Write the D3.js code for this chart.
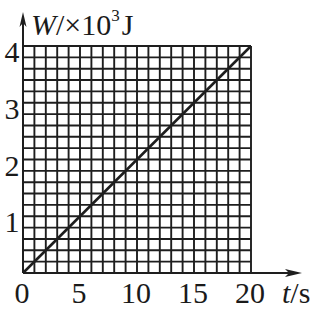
<!DOCTYPE html>
<html>
<head>
<meta charset="utf-8">
<script src="https://cdn.jsdelivr.net/npm/d3@7/dist/d3.min.js"></script>
<style>
	html, body { margin: 0; padding: 0; background: #fff; }
	text { font-family: "Liberation Serif", "Times New Roman", serif; fill: #1a1a1a; }
</style>
</head>
<body>
<div id="chart"></div>
<script>
"use strict";

// Chart data
var timeVals = [0, 20],
	workVals = [0, 4],
	xTickLabels = [0, 5, 10, 15, 20],
	yTickLabels = [1, 2, 3, 4];

var width = 320,
	height = 309,
	margin = { top: 46, right: 69, bottom: 36, left: 23 },
	ink = "#1e1e1e";

var svg = d3.select("#chart").append("svg")
	.attr("width", width)
	.attr("height", height);

var x = d3.scaleLinear()
	.domain([0, 20])
	.range([margin.left, width - margin.right]);

var y = d3.scaleLinear()
	.domain([0, 4])
	.range([height - margin.bottom, margin.top]);

// Grid lines: one per second, one per 0.2 x10^3 J
var grid = svg.append("g")
	.attr("stroke", ink)
	.attr("stroke-width", 1.9);

grid.selectAll(".v")
	.data(d3.range(0, 21))
	.enter().append("line")
	.attr("x1", function (d) { return x(d); })
	.attr("x2", function (d) { return x(d); })
	.attr("y1", y(0))
	.attr("y2", y(4));

grid.selectAll(".h")
	.data(d3.range(0, 21).map(function (i) { return i * 0.2; }))
	.enter().append("line")
	.attr("y1", function (d) { return y(d); })
	.attr("y2", function (d) { return y(d); })
	.attr("x1", x(0))
	.attr("x2", x(20));

// Axes with arrows
svg.append("line")
	.attr("x1", x(0)).attr("x2", 292)
	.attr("y1", y(0)).attr("y2", y(0))
	.attr("stroke", ink).attr("stroke-width", 2);

svg.append("path")
	.attr("d", "M" + 302 + "," + y(0) + "L285," + (y(0) - 4) + "L289," + y(0) + "L285," + (y(0) + 4) + "Z")
	.attr("fill", ink);

svg.append("line")
	.attr("x1", x(0)).attr("x2", x(0))
	.attr("y1", y(0)).attr("y2", 22)
	.attr("stroke", ink).attr("stroke-width", 2);

svg.append("path")
	.attr("d", "M" + x(0) + ",12L" + (x(0) - 3.5) + ",27L" + x(0) + ",23L" + (x(0) + 3.5) + ",27Z")
	.attr("fill", ink);

// Data line
var line = d3.line()
	.x(function (d) { return x(d[0]); })
	.y(function (d) { return y(d[1]); });

svg.append("path")
	.datum(d3.zip(timeVals, workVals))
	.attr("d", line)
	.attr("fill", "none")
	.attr("stroke", ink)
	.attr("stroke-width", 2.6);

// Tick labels
svg.selectAll(".xl")
	.data(xTickLabels)
	.enter().append("text")
	.attr("x", function (d) { return x(d) - 1; })
	.attr("y", 303)
	.attr("text-anchor", "middle")
	.attr("font-size", 30)
	.text(function (d) { return d; });

svg.selectAll(".yl")
	.data(yTickLabels)
	.enter().append("text")
	.attr("x", 12)
	.attr("y", function (d) { return y(d) + 16; })
	.attr("text-anchor", "middle")
	.attr("font-size", 30)
	.text(function (d) { return d; });

// Axis titles
var xt = svg.append("text")
	.attr("x", 282)
	.attr("y", 303)
	.attr("font-size", 30);
xt.append("tspan").attr("font-style", "italic").text("t");
xt.append("tspan").text("/s");

var yt = svg.append("text")
	.attr("x", 31)
	.attr("y", 35)
	.attr("font-size", 30);
yt.append("tspan").attr("font-style", "italic").text("W");
yt.append("tspan").text("/×10");
yt.append("tspan").attr("font-size", 17).attr("dy", -14).text("3");
yt.append("tspan").attr("dy", 14).attr("dx", 2).text("J");
</script>
</body>
</html>
